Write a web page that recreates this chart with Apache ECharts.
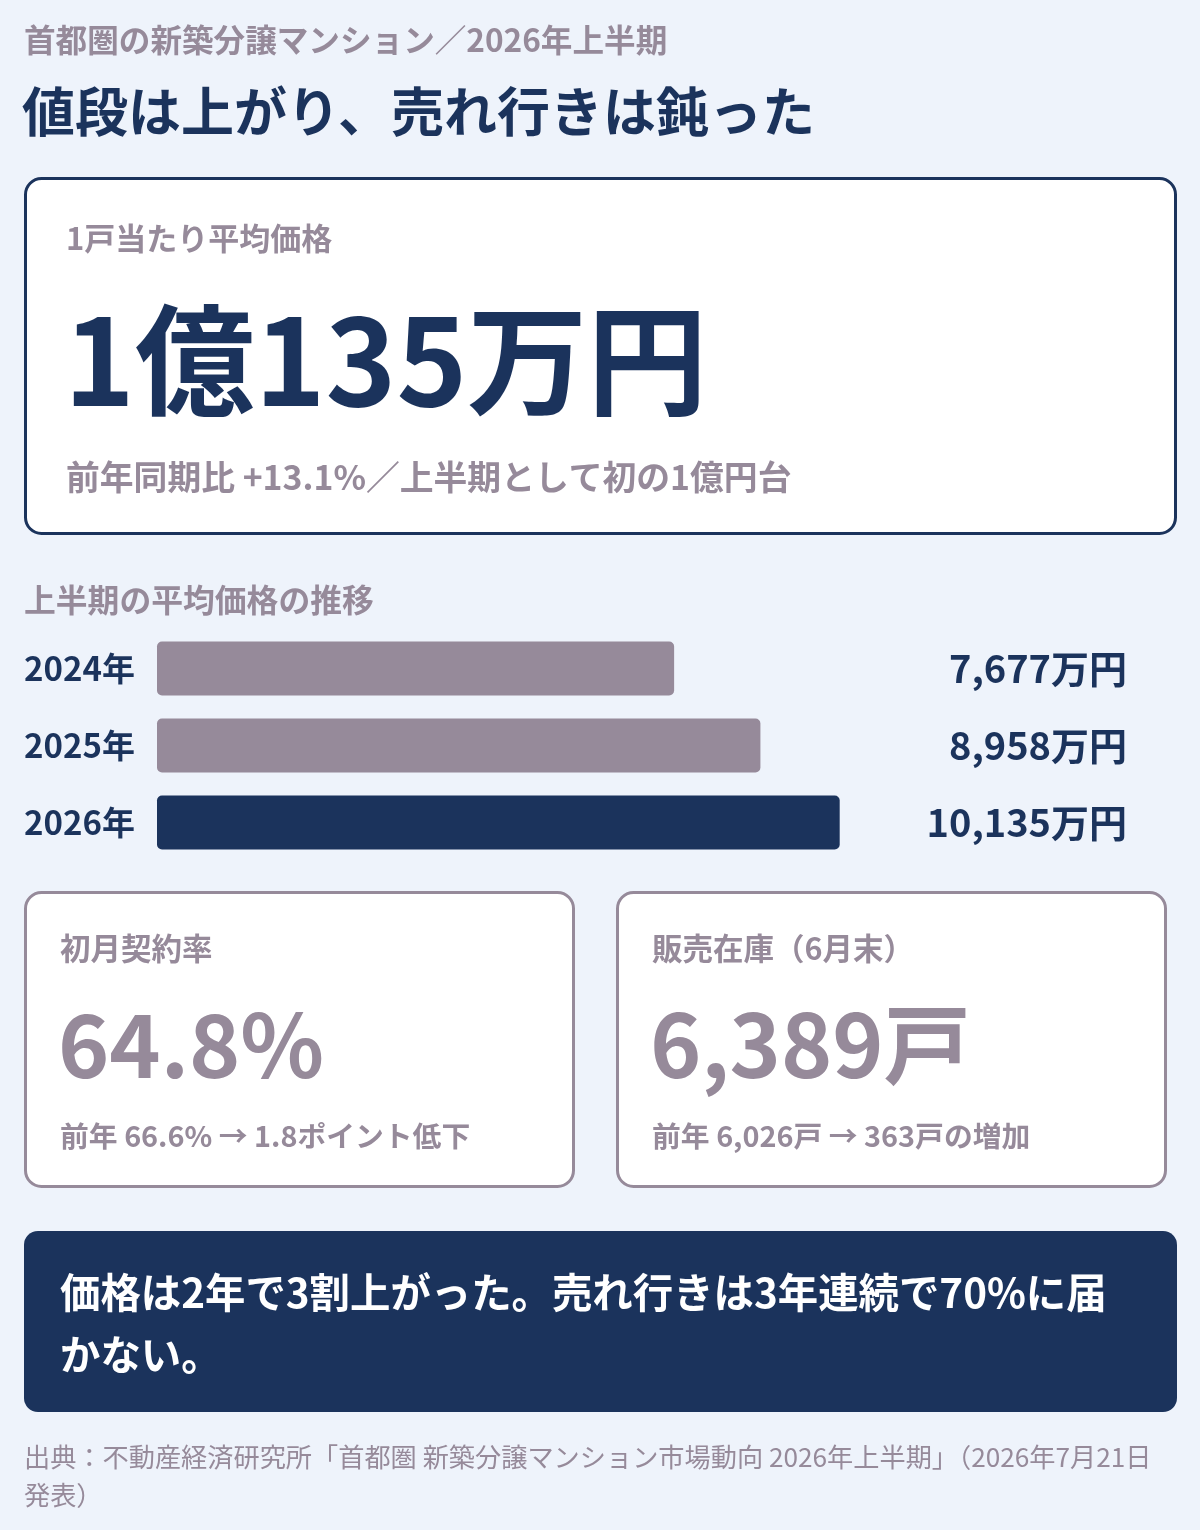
<!DOCTYPE html>
<html>
<head>
<meta charset="UTF-8">
<title>首都圏の新築分譲マンション 2026年上半期</title>
<script type="text/javascript" src="https://cdn.jsdelivr.net/npm/echarts@6/dist/echarts.min.js"></script>
<style>
body{margin:0;background:#eef3fb;}
</style>
</head>
<body>
<div id="main" style="width:1200px;height:1530px;"></div>

<script type="text/javascript">
//上半期の平均価格（万円）
var years=['2024年','2025年','2026年'];
var prices=[7677,8958,10135];
//主要な数値
var contractRate=[66.6,64.8];   //前年, 今年（%）
var stock=[6026,6389];          //前年, 今年（戸）

var navy='#1b335c';
var gray='#968a9a';
var ff='"Noto Sans CJK JP","Noto Sans CJK SC",sans-serif';

function comma(n){ return echarts.format.addCommas(n); }

//テキスト用の小さなヘルパー
function txt(s,x,y,size,color,weight){
    return {
        type:'text',
        x:x, y:y,
        style:{
            text:s,
            fill:color,
            fontSize:size,
            fontWeight:weight||'bold',
            fontFamily:ff,
            textAlign:'left',
            textVerticalAlign:'middle',
            lineHeight:size*1.5
        }
    };
}

var mychart=echarts.init(document.getElementById('main'));

var rateDiff=(contractRate[0]-contractRate[1]).toFixed(1);
var stockDiff=stock[1]-stock[0];

var option={
    backgroundColor:'#eef3fb',
    animation:false,
    //カードと文字
    graphic:[
        txt('首都圏の新築分譲マンション／2026年上半期',24,40,31.6,gray),
        txt('値段は上がり、売れ行きは鈍った',22,112,53,navy),

        {type:'rect',shape:{x:25.5,y:178.5,width:1150,height:355,r:16},
         style:{fill:'#fff',stroke:navy,lineWidth:3}},
        txt('1戸当たり平均価格',66,238,31,gray),
        txt('1億135万円',64,360,120,navy),
        txt('前年同期比 +13.1%／上半期として初の1億円台',66,477,33.8,gray),

        txt('上半期の平均価格の推移',24,600,31.8,gray),

        {type:'rect',shape:{x:25.5,y:892.5,width:548,height:294,r:16},
         style:{fill:'#fff',stroke:gray,lineWidth:3}},
        txt('初月契約率',60,948,30.5,gray),
        txt(contractRate[1].toFixed(1)+'%',58,1045,87,gray),
        txt('前年 '+contractRate[0].toFixed(1)+'% → '+rateDiff+'ポイント低下',60,1136,28.8,gray),

        {type:'rect',shape:{x:617.5,y:892.5,width:548,height:294,r:16},
         style:{fill:'#fff',stroke:gray,lineWidth:3}},
        txt('販売在庫（6月末）',652,948,30.5,gray),
        txt(comma(stock[1])+'戸',650,1045,87,gray),
        txt('前年 '+comma(stock[0])+'戸 → '+stockDiff+'戸の増加',652,1136,28.8,gray),

        {type:'rect',shape:{x:24,y:1231,width:1153,height:181,r:14},
         style:{fill:navy}},
        {type:'text',x:60,y:1324,
         style:{text:'価格は2年で3割上がった。売れ行きは3年連続で70%に届\nかない。',
                fill:'#fff',fontSize:40.4,fontWeight:'bold',fontFamily:ff,
                lineHeight:62,textAlign:'left',textVerticalAlign:'middle'}},

        {type:'text',x:24,y:1476,
         style:{text:'出典：不動産経済研究所「首都圏 新築分譲マンション市場動向 2026年上半期」（2026年7月21日\n発表）',
                fill:gray,fontSize:26.2,fontFamily:ff,
                lineHeight:38,textAlign:'left',textVerticalAlign:'middle'}}
    ],
    //棒グラフ
    grid:{left:157,right:201,top:630,height:231,containLabel:false},
    xAxis:{
        type:'value',
        min:0,
        max:12500,
        show:false
    },
    yAxis:[{
        type:'category',
        data:years,
        inverse:true,
        axisLine:{show:false},
        axisTick:{show:false},
        axisLabel:{
            align:'left',
            margin:133,
            color:navy,
            fontSize:33,
            fontWeight:'bold',
            fontFamily:ff
        }
    },{
        type:'category',
        data:years,
        inverse:true,
        position:'right',
        axisLine:{show:false},
        axisTick:{show:false},
        axisLabel:{
            align:'right',
            margin:128,
            color:navy,
            fontSize:38,
            fontWeight:'bold',
            fontFamily:ff,
            formatter:function(v,i){ return comma(prices[i])+'万円'; }
        }
    }],
    series:[{
        type:'bar',
        data:prices,
        barWidth:54,
        itemStyle:{
            borderRadius:5,
            color:function(p){ return p.dataIndex==prices.length-1 ? navy : gray; }
        }
    }]
};

mychart.setOption(option);
</script>
</body>
</html>
